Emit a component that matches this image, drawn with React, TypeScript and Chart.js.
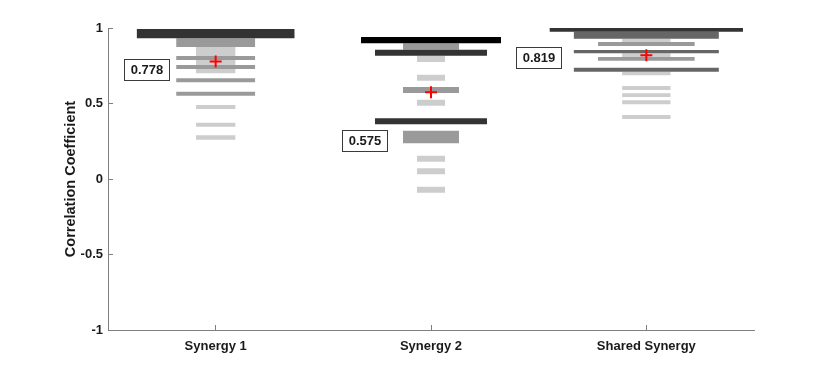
import React, { useEffect, useRef } from 'react';
import { Chart, registerables } from 'chart.js';

Chart.register(...registerables);

// ---- Data ----
const categories = ['Synergy 1', 'Synergy 2', 'Shared Synergy'];
const categoryPositions = [1, 2, 3];
const means = [0.778, 0.575, 0.819];
const meanLabels = ['0.778', '0.575', '0.819'];
// label anchor (data coordinates: category axis, correlation axis)
const labelX = [0.68, 1.69, 2.5];
const labelY = [0.722, 0.252, 0.807];
const yTicks = [-1, -0.5, 0, 0.5, 1];

// bins: [low, high, count]
const synergy1Bins: number[][] = [
  [0.700, 0.874, 1],
  [0.932, 0.993, 4],
  [0.874, 0.932, 2],
  [0.788, 0.815, 2],
  [0.728, 0.755, 2],
  [0.640, 0.667, 2],
  [0.552, 0.578, 2],
  [0.464, 0.490, 1],
  [0.346, 0.373, 1],
  [0.260, 0.290, 1],
];
const synergy2Bins: number[][] = [
  [0.899, 0.940, 5],
  [0.856, 0.899, 2],
  [0.817, 0.856, 4],
  [0.775, 0.817, 1],
  [0.651, 0.691, 1],
  [0.570, 0.609, 2],
  [0.485, 0.525, 1],
  [0.362, 0.402, 4],
  [0.236, 0.320, 2],
  [0.115, 0.154, 1],
  [0.031, 0.071, 1],
  [-0.091, -0.051, 1],
];
const sharedBins: number[][] = [
  [0.975, 1.0, 4],
  [0.929, 0.975, 3],
  [0.907, 0.929, 1],
  [0.881, 0.907, 2],
  [0.832, 0.854, 3],
  [0.808, 0.832, 1],
  [0.783, 0.808, 2],
  [0.711, 0.737, 3],
  [0.687, 0.711, 1],
  [0.589, 0.616, 1],
  [0.543, 0.568, 1],
  [0.495, 0.521, 1],
  [0.397, 0.424, 1],
];
const binsByCategory = [synergy1Bins, synergy2Bins, sharedBins];
// half width (category units) contributed by each count
const halfWidthPerCount = [0.0915, 0.065, 0.1122];

// ---- Styles ----
const countColors = ['#ffffff', '#cdcdcd', '#9a9a9a', '#666666', '#333333', '#000000'];
const FONT = '"Liberation Sans", Arial, Helvetica, sans-serif';
const TEXT = '#1a1a1a';
const AXIS = '#7f7f7f';

const labelBoxes = {
  id: 'labelBoxes',
  afterDatasetsDraw(chart: any) {
    const { ctx, scales } = chart;
    const x = scales.x;
    const y = scales.y;
    ctx.save();
    ctx.font = `bold 13px ${FONT}`;
    meanLabels.forEach((t, i) => {
      const px = x.getPixelForValue(labelX[i]);
      const py = y.getPixelForValue(labelY[i]);
      const w = Math.round(ctx.measureText(t).width + 12);
      const h = 21;
      const left = Math.round(px - w / 2);
      const top = Math.round(py - h / 2);
      ctx.fillStyle = '#ffffff';
      ctx.fillRect(left, top, w, h);
      ctx.strokeStyle = '#3a3a3a';
      ctx.lineWidth = 1;
      ctx.strokeRect(left + 0.5, top + 0.5, w, h);
      ctx.fillStyle = TEXT;
      ctx.textAlign = 'center';
      ctx.textBaseline = 'middle';
      ctx.fillText(t, left + w / 2 + 0.5, top + h / 2 + 1);
    });
    ctx.restore();
  },
};

export default function App() {
  const ref = useRef<HTMLCanvasElement>(null);

  useEffect(() => {
    const canvas = ref.current;
    if (!canvas) return;
    const datasets: any[] = [];
    binsByCategory.forEach((bins, ci) => {
      const c = categoryPositions[ci];
      bins.forEach(([lo, hi, n]) => {
        const hw = n * halfWidthPerCount[ci];
        datasets.push({
          type: 'line',
          data: [
            { x: c - hw, y: hi },
            { x: c + hw, y: hi },
            { x: c + hw, y: lo },
            { x: c - hw, y: lo },
          ],
          fill: 'shape',
          backgroundColor: countColors[n],
          borderColor: 'rgba(0,0,0,0)',
          borderWidth: 0,
          pointRadius: 0,
          pointHoverRadius: 0,
          tension: 0,
          order: 10 - n,
        });
      });
    });
    datasets.push({
      type: 'scatter',
      data: means.map((m, i) => ({ x: categoryPositions[i], y: m })),
      pointStyle: 'cross',
      pointRadius: 6,
      borderColor: '#ff0000',
      backgroundColor: '#ff0000',
      borderWidth: 2,
      order: 0,
    });

    const chart = new Chart(canvas, {
      type: 'line',
      data: { datasets },
      plugins: [labelBoxes],
      options: {
        animation: false,
        responsive: false,
        events: [],
        layout: { padding: { left: 0, top: 28, right: 76, bottom: 0 } },
        plugins: { legend: { display: false }, tooltip: { enabled: false } },
        scales: {
          x: {
            type: 'linear',
            min: 0.5,
            max: 3.5,
            afterBuildTicks: (s: any) => {
              s.ticks = categoryPositions.map((v) => ({ value: v }));
            },
            afterFit: (s: any) => {
              s.height = 41;
            },
            ticks: {
              autoSkip: false,
              maxRotation: 0,
              padding: 14,
              color: TEXT,
              font: { family: FONT, size: 13, weight: 'bold' },
              callback: (v: any) => categories[categoryPositions.indexOf(Number(v))] ?? '',
            },
            grid: { drawOnChartArea: false, drawTicks: true, tickLength: -5, color: AXIS },
            border: { color: AXIS },
          },
          y: {
            type: 'linear',
            min: -1,
            max: 1,
            afterBuildTicks: (s: any) => {
              s.ticks = yTicks.map((v) => ({ value: v }));
            },
            afterFit: (s: any) => {
              s.width = 108;
            },
            ticks: {
              padding: 10,
              color: TEXT,
              font: { family: FONT, size: 13, weight: 'bold' },
              callback: (v: any) => String(v),
            },
            title: {
              display: true,
              text: 'Correlation Coefficient',
              color: TEXT,
              font: { family: FONT, size: 14.5, weight: 'bold' },
              padding: { top: 62, bottom: 0 },
            },
            grid: { drawOnChartArea: false, drawTicks: true, tickLength: -5, color: AXIS },
            border: { color: AXIS },
          },
        },
      },
    } as any);
    return () => chart.destroy();
  }, []);

  return (
    <div style={{ position: 'fixed', left: 0, top: 0, width: 830, height: 371, background: '#ffffff' }}>
      <canvas ref={ref} width={830} height={371} style={{ width: 830, height: 371 }} />
    </div>
  );
}
